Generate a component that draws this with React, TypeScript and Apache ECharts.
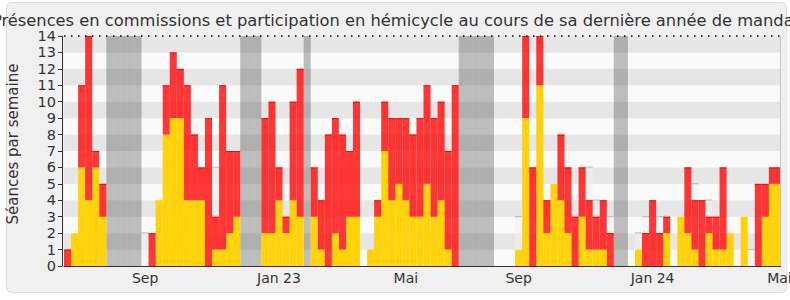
import React, { useEffect, useRef } from "react";
import * as echarts from "echarts";

// ---- data ----
const titleText =
  "Présences en commissions et participation en hémicycle au cours de sa dernière année de mandat";
const yAxisTitle = "Séances par semaine";

// weekly slots (index = week number in the displayed period)
const weekCount = 102;

// month tick labels and the week slot they sit under
const tickLabels = ["Sep", "Jan 23", "Mai", "Sep", "Jan 24", "Mai"];
const tickWeeks = [11, 30, 48, 64, 83, 101];

// présences en commission (yellow)
const commission = [
  0, 2, 6, 4, 6, 3, 0, 0, 0, 0, 0,
  0, 0, 4, 8, 9, 9, 4, 4, 4, 0, 1, 1, 2, 3,
  0, 0, 0,
  2, 2, 4, 2, 4, 3,
  0,
  3, 1, 0, 2, 1, 3, 3, 0, 1, 3, 7, 4, 5, 4, 3, 3, 5, 3, 4, 1, 0,
  0, 0, 0, 0, 0,
  0, 0, 0,
  1, 9, 0, 11, 2, 5, 4, 2, 0, 3, 1, 1, 1, 0,
  0, 0,
  0, 1, 0, 0, 0, 2, 0, 3, 2, 1, 0, 2, 1, 1, 2, 0, 3, 0, 0, 3, 5, 5,
];

// participation en hémicycle (red, stacked above)
const hemicycle = [
  1, 0, 5, 10, 1, 2, 0, 0, 0, 0, 0,
  0, 2, 0, 3, 4, 3, 7, 4, 2, 9, 2, 10, 5, 4,
  0, 0, 0,
  7, 8, 2, 1, 6, 9,
  0,
  3, 3, 8, 7, 7, 4, 7, 0, 0, 1, 3, 5, 4, 5, 5, 6, 6, 6, 6, 6, 11,
  0, 0, 0, 0, 0,
  0, 0, 0,
  0, 5, 6, 3, 2, 0, 4, 4, 3, 3, 3, 2, 3, 2,
  0, 0,
  0, 0, 2, 4, 2, 1, 0, 0, 4, 3, 4, 1, 2, 5, 0, 0, 0, 0, 5, 2, 1, 1,
];

// présence médiane (only visible where above the bars)
const medianWeeks = [11, 21, 64, 74, 75, 77, 81, 82, 84, 89, 91, 97];
const medianValues = [2, 6, 3, 6, 4, 3, 2, 3, 3, 5, 4, 1];

// vacances parlementaires
const vacationWeeks = [6, 7, 8, 9, 10, 25, 26, 27, 34, 56, 57, 58, 59, 60, 78, 79];

const yMax = 14;

const FONT = "DejaVu Sans";

export default function App() {
  const ref = useRef<HTMLDivElement>(null);

  useEffect(() => {
    if (!ref.current) return;
    const chart = echarts.init(ref.current, null, { renderer: "svg" });

    const categories = Array.from({ length: weekCount }, (_, i) => String(i));
    const vacationData = categories.map((_, i) =>
      vacationWeeks.includes(i) ? yMax : null
    );
    const medianData = categories.map((_, i) => {
      const j = medianWeeks.indexOf(i);
      return j >= 0 ? medianValues[j] : null;
    });
    const redTops = categories.map((_, i) =>
      hemicycle[i] > 0 ? commission[i] + hemicycle[i] : null
    );

    const barCommon = {
      type: "bar" as const,
      barCategoryGap: "0%",
      barGap: "-100%",
      silent: true,
    };

    const option: any = {
      animation: false,
      textStyle: { fontFamily: FONT },
      grid: {
        left: 64,
        top: 36,
        width: 719,
        height: 230,
        outerBoundsMode: "none",
        containLabel: false,
      },
      xAxis: {
        type: "category",
        data: categories,
        boundaryGap: true,
        axisLine: { show: true, lineStyle: { color: "#333", width: 1 } },
        axisTick: { show: false },
        splitLine: { show: false },
        axisLabel: {
          interval: (index: number) => tickWeeks.includes(index),
          formatter: (_v: string, index: number) => {
            const j = tickWeeks.indexOf(index);
            return j >= 0 ? tickLabels[j] : "";
          },
          fontSize: 14,
          color: "#333",
          fontFamily: FONT,
          margin: 5,
          hideOverlap: false,
        },
      },
      yAxis: {
        type: "value",
        min: 0,
        max: yMax,
        interval: 1,
        offset: 2,
        axisLine: { show: true, lineStyle: { color: "#333", width: 1 } },
        axisTick: { show: true, length: 4, lineStyle: { color: "#333" } },
        axisLabel: { fontSize: 14.5, color: "#333", fontFamily: FONT, margin: 6 },
        splitLine: { show: false },
        splitArea: { show: true, areaStyle: { color: ["#fafafa", "#e6e6e6"] } },
      },
      series: [
        {
          ...barCommon,
          name: "Vacances",
          data: vacationData,
          itemStyle: { color: "rgba(50,50,50,0.3)" },
        },
        {
          ...barCommon,
          name: "Médiane",
          data: medianData,
          itemStyle: { color: "rgba(240,240,240,0.6)" },
        },
        {
          ...barCommon,
          name: "Commission",
          stack: "presence",
          data: commission,
          itemStyle: { color: "#ffd20a" },
        },
        {
          ...barCommon,
          name: "Hémicycle",
          stack: "presence",
          data: hemicycle,
          itemStyle: { color: "rgba(255,0,0,0.78)" },
          markLine: {
            silent: true,
            symbol: "none",
            label: { show: false },
            lineStyle: { color: "#000", type: [1.5, 5.5], width: 1.5 },
            data: [{ yAxis: yMax }],
          },
        },
        {
          type: "scatter",
          name: "Médiane trait",
          data: medianData,
          symbol: "rect",
          symbolSize: [7, 1.5],
          itemStyle: { color: "#aaa" },
          silent: true,
          z: 1,
        },
        {
          type: "scatter",
          name: "Hémicycle trait",
          data: redTops,
          symbol: "rect",
          symbolSize: [7.05, 1],
          symbolOffset: [0, 0.5],
          itemStyle: { color: "#e80000" },
          silent: true,
          z: 3,
        },
      ],
      graphic: [
        {
          type: "rect",
          z: -100,
          shape: { x: 6.5, y: 2.5, width: 780, height: 290, r: 5 },
          style: { fill: "#f0f0f0", stroke: "#dcdcdc", lineWidth: 1 },
        },
        {
          type: "rect",
          z: 100,
          shape: { x: 781, y: 30, width: 5.5, height: 240 },
          style: { fill: "#f0f0f0" },
        },
        {
          type: "line",
          z: 100,
          shape: { x1: 780.5, y1: 36, x2: 780.5, y2: 266 },
          style: { stroke: "#c4c4c4", lineWidth: 1 },
        },
        {
          type: "text",
          z: 50,
          x: 396,
          y: 20,
          style: {
            text: titleText,
            fontSize: 16.3,
            fontFamily: FONT,
            fill: "#333",
            align: "center",
            verticalAlign: "middle",
          },
        },
        {
          type: "text",
          z: 50,
          x: 12.5,
          y: 144,
          rotation: Math.PI / 2,
          style: {
            text: yAxisTitle,
            fontSize: 15,
            fontFamily: FONT,
            fill: "#333",
            align: "center",
            verticalAlign: "middle",
          },
        },
      ],
    };

    chart.setOption(option);
    return () => chart.dispose();
  }, []);

  return (
    <div
      ref={ref}
      style={{ position: "absolute", left: 0, top: 0, width: 790, height: 300, background: "#fff" }}
    />
  );
}
